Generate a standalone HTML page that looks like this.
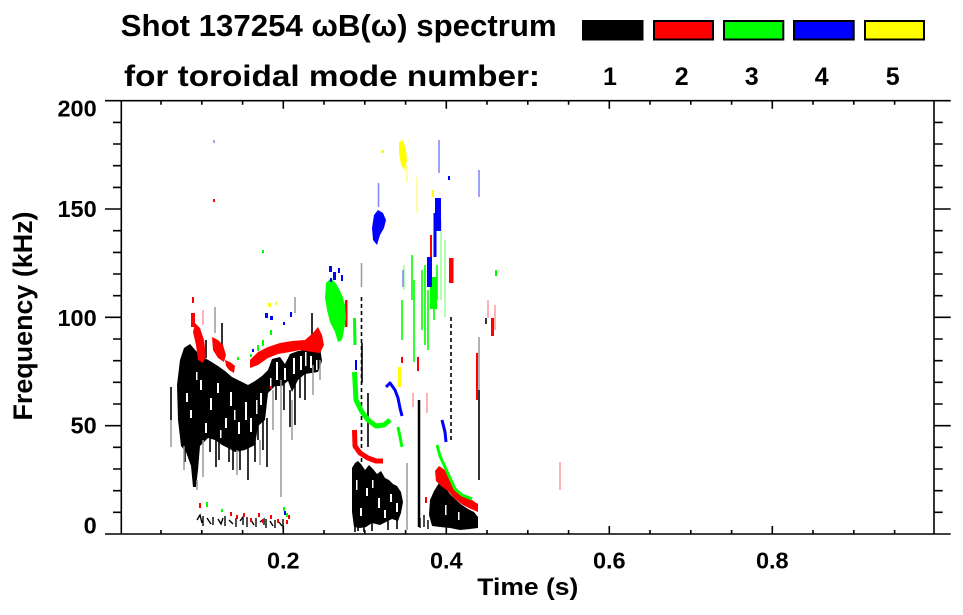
<!DOCTYPE html>
<html><head><meta charset="utf-8"><style>
html,body{margin:0;padding:0;background:#fff;}
svg{display:block;}
</style></head><body>
<svg width="963" height="615" viewBox="0 0 963 615" xmlns="http://www.w3.org/2000/svg" font-family="'Liberation Sans', Arial, sans-serif" font-weight="bold">
<rect width="963" height="615" fill="#fff"/>

<!-- Title -->
<text x="120.7" y="36" font-size="31" textLength="436" lengthAdjust="spacingAndGlyphs">Shot 137254 ωB(ω) spectrum</text>
<text x="124" y="86" font-size="30" textLength="416" lengthAdjust="spacingAndGlyphs">for toroidal mode number:</text>

<!-- Legend -->
<rect x="582" y="20" width="61.5" height="20.5" fill="#000"/>
<rect x="654" y="21" width="59" height="18.5" fill="#ff0000" stroke="#000" stroke-width="2"/>
<rect x="724" y="21" width="59.3" height="18.5" fill="#00ff00" stroke="#000" stroke-width="2"/>
<rect x="794" y="21" width="59.7" height="18.5" fill="#0000ff" stroke="#000" stroke-width="2"/>
<rect x="865" y="21" width="59" height="18.5" fill="#ffff00" stroke="#000" stroke-width="2"/>
<g font-size="25" text-anchor="middle">
<text x="610" y="85">1</text>
<text x="681.7" y="85">2</text>
<text x="751.7" y="85">3</text>
<text x="821.7" y="85">4</text>
<text x="892.7" y="85">5</text>
</g>

<!-- ===== DATA ===== -->
<g fill="#000">
<polygon points="180,360 184,348 190,344 196,351 203,357 210,361 218,366 225,371 232,377 240,381 248,385 255,381 262,376 268,370 272,359 280,357 285,364 290,354 298,351 310,349 320,347 322,361 318,372 305,374 298,380 292,392 288,381 282,386 275,386 268,393 265,420 258,426 255,445 245,450 235,452 228,448 222,445 215,440 208,438 200,446 198,470 196,487 193,487 191,466 186,452 181,446 178,420 177,385"/>
<polygon points="352,468 355,463 358,461 361,464 365,470 369,465 373,469 377,474 381,471 385,478 389,480 393,484 397,486 401,492 403,502 401,513 398,521 392,519 386,522 380,525 372,523 366,527 360,528 354,527 352,512"/>
<polygon points="430,500 434,491 439,483 444,486 450,494 456,500 462,505 468,509 474,512 478,517 478,528 470,529 460,530 450,528 440,527 432,526 429,515"/>
</g>
<!-- white gaps for texture -->
<g fill="#fff">
<rect x="200" y="380" width="2" height="10"/><rect x="210" y="398" width="2" height="12"/>
<rect x="190" y="410" width="2" height="8"/><rect x="230" y="392" width="2" height="14"/>
<rect x="245" y="402" width="2" height="18"/><rect x="238" y="422" width="2" height="12"/>
<rect x="225" y="418" width="2" height="10"/><rect x="250" y="418" width="2" height="14"/>
<rect x="205" y="423" width="2" height="10"/><rect x="186" y="393" width="2" height="9"/>
<rect x="260" y="393" width="2" height="12"/><rect x="276" y="362" width="2" height="18"/>
<rect x="300" y="356" width="2" height="14"/><rect x="310" y="356" width="2" height="12"/>
<rect x="284" y="368" width="2" height="12"/><rect x="217" y="383" width="2" height="10"/>
<rect x="293" y="358" width="2" height="16"/><rect x="305" y="352" width="1.5" height="14"/>
<rect x="316" y="360" width="1.5" height="10"/><rect x="270" y="378" width="1.5" height="10"/>
<rect x="196" y="372" width="1.5" height="8"/><rect x="234" y="410" width="1.5" height="10"/>
<rect x="256" y="400" width="1.5" height="14"/><rect x="220" y="430" width="1.5" height="8"/>
<rect x="366" y="488" width="2" height="8"/><rect x="378" y="498" width="2" height="10"/>
<rect x="390" y="494" width="2" height="8"/><rect x="360" y="508" width="2" height="8"/>
<rect x="384" y="510" width="2" height="8"/><rect x="396" y="503" width="2" height="9"/>
<rect x="372" y="480" width="1.5" height="8"/><rect x="356" y="480" width="1.5" height="10"/>
<rect x="445" y="505" width="1.5" height="10"/><rect x="458" y="512" width="1.5" height="8"/>
</g>
<!-- black streaks -->
<path fill="none" stroke="#000" stroke-width="1.6" d="M171,387V420 M185,445V462 M216,440V467 M219,438V460 M240,445V470 M248,448V480 M255,440V462 M263,420V450 M267,418V467 M290,390V427 M295,380V425 M305,372V400 M222,323V353 M312,313V340 M206,340V358 M368,393V447 M479,390V480 M355,525V532 M358,525V531 M364,525V532 M372,520V531 M388,518V530 M397,518V529 M362,343V383 M486,318V324 M300,378V398 M284,384V410 M276,384V400 M229,446V462 M210,436V452 M233,450V470 M258,424V440"/>
<path fill="none" stroke="#000" stroke-width="2.5" d="M419,400V527"/>
<path fill="none" stroke="#000" stroke-width="1.6" stroke-dasharray="4,3" d="M361.5,297V465 M451,317V443"/>
<path fill="none" stroke="#000" stroke-width="1.4" d="M420,518v10 M424,515v12 M428,520v9 M197,520 l3,-5 l2,8 M203,516 v10 M207,518 l4,6 M213,517 v8 M218,519 l3,5 l2,-6 M225,516 v10 M229,520 l4,4 M236,518 v9 M240,521 l3,-4 v8 M247,517 v10 M251,520 l3,5 M256,518 v9 M260,522 l4,-3 v6 M266,519 v9 M270,521 l3,5 M275,520 v8 M279,522 l3,4 M283,519 v10"/>
<!-- gray streaks -->
<path fill="none" stroke="#999" stroke-width="1.5" d="M171,420V447 M203,440V477 M281,380V497 M313,365V395 M320,360V380 M215,307V333 M295,297V313 M479,337V390 M407,463V530 M361.5,263V287 M184,446V470 M197,480V490 M237,450V475 M260,440V465 M292,400V440 M273,390V430"/>

<!-- red -->
<g fill="#ff0000">
<polygon points="195,323 200,328 204,340 206,355 203,363 198,360 196,345 193,332"/>
<rect x="191" y="313" width="4" height="14"/>
<polygon points="212,337 218,340 223,345 226,355 224,362 218,358 213,350"/>
<polygon points="225,360 230,362 235,366 234,373 229,370 226,366"/>
<polygon points="250,360 258,352 268,347 280,343 292,341 305,340 313,333 318,327 322,335 324,345 320,353 312,352 300,350 290,352 278,354 268,358 258,365 250,368"/>
<polygon points="435,471 439,466 445,470 451,480 457,490 464,496 472,500 478,504 478,512 471,509 463,505 455,499 448,491 441,486 436,481"/>
<rect x="345" y="300" width="2.5" height="27"/>
<rect x="449" y="258" width="4.5" height="25"/>
<rect x="430" y="235" width="2" height="22"/>
<rect x="476" y="353" width="2" height="47"/>
<rect x="491" y="318" width="3" height="18"/>
<rect x="417" y="357" width="2" height="14"/>
<rect x="401" y="357" width="2" height="6"/>
<rect x="425" y="497" width="2" height="6"/>
<rect x="270" y="386" width="2" height="3"/>
<rect x="213" y="199" width="2" height="3"/>
<rect x="192" y="297" width="2" height="6"/>
<rect x="199" y="503" width="2" height="5"/><rect x="230" y="512" width="2" height="4"/>
<rect x="236" y="515" width="2" height="4"/><rect x="243" y="513" width="2" height="4"/>
<rect x="250" y="518" width="2" height="4"/><rect x="258" y="513" width="2" height="4"/>
<rect x="262" y="519" width="2" height="4"/><rect x="270" y="515" width="2" height="4"/>
<rect x="277" y="519" width="2" height="4"/><rect x="286" y="520" width="2" height="4"/>
<rect x="288" y="515" width="2" height="4"/>
</g>
<path fill="none" stroke="#ff0000" stroke-width="5" stroke-linejoin="round" d="M354.5,430 L355,446 L360,453 L368,458 L376,461 L383,461"/>
<path fill="none" stroke="#ff9999" stroke-width="1.5" d="M413,393V407 M427,393V413 M488,300V318 M495,305V330 M560,462V490 M203,310V325"/>

<!-- green -->
<g fill="#00ff00">
<polygon points="326,283 331,278 337,285 342,295 345,305 346,318 344,330 342,340 338,342 335,332 330,322 327,310 325,298"/>
<rect x="430" y="277" width="7" height="32"/>
<rect x="206" y="502" width="2" height="5"/><rect x="283" y="507" width="2" height="4"/>
<rect x="286" y="513" width="2" height="4"/><rect x="221" y="509" width="2" height="3"/>
<rect x="237" y="357" width="2" height="3"/><rect x="250" y="354" width="2" height="3"/>
<rect x="257" y="345" width="2" height="6"/><rect x="262" y="340" width="2" height="6"/>
<rect x="270" y="330" width="2" height="5"/><rect x="262" y="250" width="2" height="3"/>
<rect x="495" y="270" width="2" height="6"/>
</g>
<path fill="none" stroke="#00ff00" stroke-width="5" stroke-linejoin="round" d="M354.5,372 L356,400 L362,412 L368,420 L376,426 L384,425 L390,420"/>
<path fill="none" stroke="#00ff00" stroke-width="3" stroke-linejoin="round" d="M437,445 L440,456 L445,467 L450,478 L455,489 L462,495 L472,499 M354.5,318 L355,345 M398,427 L402,447"/>
<path fill="none" stroke="#00ff00" stroke-width="1.6" d="M402,300V340 M412,255V300 M414,280V362 M422,270V330 M425,265V345 M428,290V350 M434,280V320 M437,265V300"/>
<path fill="none" stroke="#99ff99" stroke-width="1.5" d="M441,220V300 M445,240V317 M404,265V290"/>

<!-- blue -->
<g fill="#0000ff">
<polygon points="374,215 378,210 383,213 386,220 384,228 380,235 377,245 373,240 372,228"/>
<rect x="435" y="198" width="6" height="33"/>
<rect x="427" y="257" width="5" height="30"/>
<rect x="329" y="266" width="3" height="6"/><rect x="333" y="272" width="3" height="8"/>
<rect x="338" y="268" width="2" height="5"/><rect x="341" y="275" width="2" height="6"/>
<rect x="330" y="278" width="2" height="4"/>
<rect x="355" y="360" width="2" height="10"/>
<rect x="265" y="313" width="3" height="5"/><rect x="270" y="316" width="3" height="4"/>
<rect x="290" y="312" width="2" height="5"/><rect x="283" y="322" width="2" height="3"/>
<rect x="252" y="349" width="2" height="3"/><rect x="284" y="511" width="2" height="4"/>
<rect x="448" y="176" width="2" height="4"/>
</g>
<path fill="none" stroke="#0000ff" stroke-width="3" stroke-linejoin="round" d="M386,387 L390,383 L395,390 L398,398 L400,408 L402,416 M442,420 L445,432 L446,442 M435,213 V257"/>
<path fill="none" stroke="#8888ff" stroke-width="1.6" d="M378.5,183V207 M439,140V173 M479,170V197 M403,270V287 M214,140V143"/>

<!-- yellow -->
<g fill="#ffff00">
<polygon points="399,142 403,140 406,150 407,160 405,170 401,165 399,152"/>
<rect x="398" y="367" width="3" height="20"/>
<rect x="381" y="150" width="3" height="3"/>
<rect x="432" y="190" width="2" height="7"/>
<rect x="268" y="303" width="3" height="4"/><rect x="275" y="302" width="2" height="3"/>
</g>
<path fill="none" stroke="#ffff88" stroke-width="1.6" d="M407,165V182 M417,177V213"/>

<!-- ===== AXES ===== -->
<g stroke="#000" stroke-width="1.6" fill="none">
<path d="M121.3,100.7V534 M934,100.7V534 M105,534H950.7 M105,100.7H950.7"/>
<path d="M105,209H121.3 M105,317.3H121.3 M105,425.7H121.3 M934,209H950.7 M934,317.3H950.7 M934,425.7H950.7"/>
<path d="M113,512.3H121.3 M113,490.7H121.3 M113,469H121.3 M113,447.3H121.3 M113,404H121.3 M113,382.3H121.3 M113,360.7H121.3 M113,339H121.3 M113,295.7H121.3 M113,274H121.3 M113,252.4H121.3 M113,230.7H121.3 M113,187.4H121.3 M113,165.7H121.3 M113,144H121.3 M113,122.4H121.3
M934,512.3H942.7 M934,490.7H942.7 M934,469H942.7 M934,447.3H942.7 M934,404H942.7 M934,382.3H942.7 M934,360.7H942.7 M934,339H942.7 M934,295.7H942.7 M934,274H942.7 M934,252.4H942.7 M934,230.7H942.7 M934,187.4H942.7 M934,165.7H942.7 M934,144H942.7 M934,122.4H942.7"/>
<path d="M161,534V530 M201.8,534V530 M242.6,534V530 M324,534V530 M364.8,534V530 M405.6,534V530 M487,534V530 M527.8,534V530 M568.6,534V530 M650,534V530 M690.8,534V530 M731.6,534V530 M813,534V530 M853.8,534V530 M894.6,534V530
M161,100.7V104.7 M201.8,100.7V104.7 M242.6,100.7V104.7 M324,100.7V104.7 M364.8,100.7V104.7 M405.6,100.7V104.7 M487,100.7V104.7 M527.8,100.7V104.7 M568.6,100.7V104.7 M650,100.7V104.7 M690.8,100.7V104.7 M731.6,100.7V104.7 M813,100.7V104.7 M853.8,100.7V104.7 M894.6,100.7V104.7"/>
<path d="M283.3,534V526 M446.3,534V526 M609.3,534V526 M772.3,534V526 M283.3,100.7V108.7 M446.3,100.7V108.7 M609.3,100.7V108.7 M772.3,100.7V108.7"/>
</g>

<!-- tick labels -->
<g font-size="23.5" text-anchor="end">
<text x="96.7" y="116.5">200</text>
<text x="96.7" y="217">150</text>
<text x="96.7" y="326">100</text>
<text x="96.7" y="433.7">50</text>
<text x="96.7" y="533.3">0</text>
</g>
<g font-size="23.5" text-anchor="middle">
<text x="283.3" y="568.3">0.2</text>
<text x="446.3" y="568.3">0.4</text>
<text x="609.3" y="568.3">0.6</text>
<text x="772.3" y="568.3">0.8</text>
</g>

<!-- axis titles -->
<text x="527.8" y="595" font-size="24" text-anchor="middle" textLength="101" lengthAdjust="spacingAndGlyphs">Time (s)</text>
<text transform="translate(32,316) rotate(-90)" font-size="27" text-anchor="middle" textLength="209" lengthAdjust="spacingAndGlyphs">Frequency (kHz)</text>
</svg>
</body></html>
